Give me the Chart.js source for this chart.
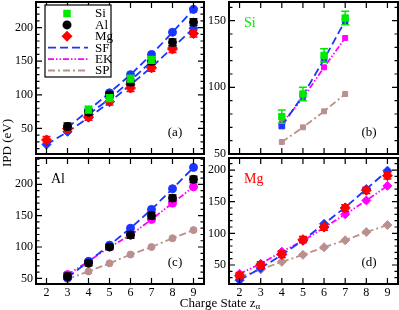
<!DOCTYPE html>
<html>
<head>
<meta charset="utf-8">
<script src="https://cdn.jsdelivr.net/npm/chart.js@4.4.1/dist/chart.umd.min.js"></script>
<style>
  body { margin: 0; background: #fff; }
  #fig { position: relative; width: 399px; height: 310px; overflow: hidden; font-family: "Liberation Serif", serif; color: #000; }
  #fig canvas { position: absolute; left: -20px; top: -20px; }
  .ytitle { position: absolute; left: 7px; top: 143px; transform: translate(-50%, -50%) rotate(-90deg); font-size: 13px; white-space: nowrap; }
  .xtitle { position: absolute; left: 220px; top: 303px; transform: translate(-50%, -50%); font-size: 13px; white-space: nowrap; }
  .xtitle sub { font-size: 9px; vertical-align: -2px; }
</style>
</head>
<body>
<div id="fig">
  <canvas id="panelA" width="439" height="350"></canvas>
  <canvas id="panelB" width="439" height="350"></canvas>
  <canvas id="panelC" width="439" height="350"></canvas>
  <canvas id="panelD" width="439" height="350"></canvas>
  <div class="ytitle">IPD (eV)</div>
  <div class="xtitle">Charge State z<sub>α</sub></div>
</div>
<script>
// data
const chargeTicks = [2, 3, 4, 5, 6, 7, 8, 9];

const siCharge = [4, 5, 6, 7];
const siExp = [78, 95, 124, 152];
const siErr = [5, 5, 5, 5];
const siSF = [71, 94, 121, 150];
const siEK = [73, 92, 115, 137];
const siSP = [59, 70, 82, 95];

const alCharge = [3, 4, 5, 6, 7, 8, 9];
const alExp = [53, 74, 100, 119, 150, 178, 208];
const alErr = [5, 4, 4, 5, 5, 5, 5];
const alSF = [51, 77, 103, 130, 160, 193, 227];
const alEK = [56, 77, 100, 119, 144, 170, 196];
const alSP = [49, 61, 74, 88, 100, 114, 127];

const mgCharge = [2, 3, 4, 5, 6, 7, 8, 9];
const mgExp = [33, 50, 67, 90, 110, 140, 168, 191];
const mgErr = [5, 5, 5, 5, 5, 5, 5, 5];
const mgSF = [26, 45, 66, 89, 115, 141, 170, 199];
const mgEK = [36, 52, 71, 88, 109, 130, 152, 175];
const mgSP = [31, 43, 55, 66, 78, 89, 102, 113];

const legendLabels = ['Si', 'Al', 'Mg', 'SF', 'EK', 'SP'];

const GREEN = '#00ea00';
const BLACK = '#000000';
const RED = '#ff0000';
const BLUE = '#1a35ff';
const MAGENTA = '#ff00ff';
const ROSY = '#bc8f8f';

const DASH_SF = [8, 4];
const DASH_EK = [6, 2, 1.5, 2, 1.5, 2];
const DASH_SP = [7, 3, 2, 3];

const FONT = { family: 'Liberation Serif', size: 12 };

function pts(xs, ys) {
    return xs.map((x, i) => ({ x: x, y: ys[i] }));
}

function expSet(label, xs, ys, err, color, shape, r) {
    return {
        label: label, data: pts(xs, ys), err: err, showLine: false,
        pointStyle: shape, pointRadius: r, pointHoverRadius: r, pointBorderWidth: 1,
        pointBackgroundColor: color, pointBorderColor: color,
        borderColor: color, backgroundColor: color
    };
}

function modelSet(label, xs, ys, color, dash, shape, r) {
    return {
        label: label, data: pts(xs, ys), showLine: true, fill: false, tension: 0,
        borderColor: color, backgroundColor: color, borderWidth: 1.8, borderDash: dash,
        pointStyle: shape, pointRadius: r, pointHoverRadius: r, pointBorderWidth: 1,
        pointBackgroundColor: color, pointBorderColor: color
    };
}

function drawMarker(ctx, shape, x, y, r, color) {
    ctx.fillStyle = color;
    ctx.beginPath();
    if (shape === 'rect') {
        ctx.rect(x - r * 0.75, y - r * 0.75, r * 1.5, r * 1.5);
    } else if (shape === 'circle') {
        ctx.arc(x, y, r, 0, Math.PI * 2);
    } else {
        ctx.moveTo(x, y - r); ctx.lineTo(x + r, y); ctx.lineTo(x, y + r); ctx.lineTo(x - r, y);
        ctx.closePath();
    }
    ctx.fill();
}

const legendStyles = [
    { marker: 'rect', color: GREEN, r: 5 },
    { marker: 'circle', color: BLACK, r: 4.5 },
    { marker: 'rectRot', color: RED, r: 5.5 },
    { dash: DASH_SF, color: BLUE },
    { dash: DASH_EK, color: MAGENTA },
    { dash: DASH_SP, color: ROSY }
];

// frame, inward ticks, error bars, panel texts, legend
const panelPlugin = {
    id: 'panel',
    beforeDatasetDraw(chart, args) {
        const ds = chart.data.datasets[args.index];
        if (!ds.err) return;
        const ctx = chart.ctx, xs = chart.scales.x, ys = chart.scales.y;
        ctx.save();
        ctx.strokeStyle = ds.borderColor;
        ctx.lineWidth = 1.5;
        ctx.beginPath();
        ds.data.forEach((p, i) => {
            const px = xs.getPixelForValue(p.x);
            const top = ys.getPixelForValue(p.y + ds.err[i]);
            const bot = ys.getPixelForValue(p.y - ds.err[i]);
            ctx.moveTo(px, top); ctx.lineTo(px, bot);
            ctx.moveTo(px - 4, top); ctx.lineTo(px + 4, top);
            ctx.moveTo(px - 4, bot); ctx.lineTo(px + 4, bot);
        });
        ctx.stroke();
        ctx.restore();
    },
    afterDraw(chart, args, opts) {
        const ctx = chart.ctx, a = chart.chartArea, xs = chart.scales.x, ys = chart.scales.y;
        ctx.save();
        ctx.strokeStyle = '#000';
        ctx.lineWidth = 1.2;
        ctx.beginPath();
        xs.ticks.forEach(t => {
            const px = xs.getPixelForValue(t.value);
            ctx.moveTo(px, a.bottom); ctx.lineTo(px, a.bottom - 6);
            ctx.moveTo(px, a.top); ctx.lineTo(px, a.top + 6);
        });
        ys.ticks.forEach(t => {
            const py = ys.getPixelForValue(t.value);
            const len = t.value % 50 === 0 ? 6 : 3.5;
            ctx.moveTo(a.left, py); ctx.lineTo(a.left + len, py);
            ctx.moveTo(a.right, py); ctx.lineTo(a.right - len, py);
        });
        ctx.stroke();
        ctx.lineWidth = 2;
        ctx.strokeRect(a.left, a.top, a.right - a.left, a.bottom - a.top);

        ctx.fillStyle = '#000';
        ctx.font = '13px "Liberation Serif"';
        ctx.textAlign = 'center';
        ctx.textBaseline = 'middle';
        ctx.fillText(opts.tag, a.right - 29, a.bottom - 21);

        if (opts.name) {
            ctx.fillStyle = opts.nameColor;
            ctx.font = '14px "Liberation Serif"';
            ctx.textAlign = 'left';
            ctx.fillText(opts.name, a.left + 15, a.top + 21);
        }

        if (opts.legend) {
            const bx = a.left + 9, by = a.top + 3;
            ctx.fillStyle = '#fff';
            ctx.fillRect(bx, by, 66, 72);
            ctx.strokeStyle = '#000';
            ctx.lineWidth = 1.2;
            ctx.strokeRect(bx, by, 66, 72);
            ctx.font = '13px "Liberation Serif"';
            ctx.textAlign = 'left';
            legendLabels.forEach((lab, i) => {
                const st = legendStyles[i];
                const y = by + 8.5 + i * 11.4;
                if (st.marker) {
                    drawMarker(ctx, st.marker, bx + 22, y, st.r, st.color);
                } else {
                    ctx.strokeStyle = st.color;
                    ctx.lineWidth = 1.8;
                    ctx.setLineDash(st.dash);
                    ctx.beginPath();
                    ctx.moveTo(bx + 3, y); ctx.lineTo(bx + 43, y);
                    ctx.stroke();
                    ctx.setLineDash([]);
                }
                ctx.fillStyle = '#000';
                ctx.fillText(lab, bx + 50, y + 0.5);
            });
        }
        ctx.restore();
    }
};

const panels = [
    {
        id: 'panelA', box: [36, 2, 204, 154], y: [12, 238], xLabels: false,
        opts: { tag: '(a)', legend: true },
        datasets: [
            expSet('Si', siCharge, siExp, siErr, GREEN, 'rect', 4.5),
            expSet('Al', alCharge, alExp, alErr, BLACK, 'circle', 4),
            expSet('Mg', mgCharge, mgExp, mgErr, RED, 'rectRot', 5),
            modelSet('SF Al', alCharge, alSF, BLUE, DASH_SF, 'circle', 4),
            modelSet('SF Si', siCharge, siSF, BLUE, DASH_SF, 'rect', 4),
            modelSet('SF Mg', mgCharge, mgSF, BLUE, DASH_SF, 'rectRot', 4.5)
        ]
    },
    {
        id: 'panelB', box: [229, 2, 398, 154], y: [50, 164], xLabels: false,
        opts: { tag: '(b)', name: 'Si', nameColor: GREEN },
        datasets: [
            expSet('Si', siCharge, siExp, siErr, GREEN, 'rect', 4.5),
            modelSet('SF', siCharge, siSF, BLUE, DASH_SF, 'rect', 4),
            modelSet('EK', siCharge, siEK, MAGENTA, DASH_EK, 'rect', 3.5),
            modelSet('SP', siCharge, siSP, ROSY, DASH_SP, 'rect', 3.5)
        ]
    },
    {
        id: 'panelC', box: [36, 158, 204, 284], y: [41, 242], xLabels: true,
        opts: { tag: '(c)', name: 'Al', nameColor: BLACK },
        datasets: [
            expSet('Al', alCharge, alExp, alErr, BLACK, 'circle', 4),
            modelSet('SF', alCharge, alSF, BLUE, DASH_SF, 'circle', 4),
            modelSet('EK', alCharge, alEK, MAGENTA, DASH_EK, 'circle', 4),
            modelSet('SP', alCharge, alSP, ROSY, DASH_SP, 'circle', 3.5)
        ]
    },
    {
        id: 'panelD', box: [229, 158, 398, 284], y: [20, 219], xLabels: true,
        opts: { tag: '(d)', name: 'Mg', nameColor: RED },
        datasets: [
            expSet('Mg', mgCharge, mgExp, mgErr, RED, 'rectRot', 5),
            modelSet('SF', mgCharge, mgSF, BLUE, DASH_SF, 'rectRot', 4.5),
            modelSet('EK', mgCharge, mgEK, MAGENTA, DASH_EK, 'rectRot', 4.5),
            modelSet('SP', mgCharge, mgSP, ROSY, DASH_SP, 'rectRot', 4.5)
        ]
    }
];

panels.forEach(p => {
    const [L, T, R, B] = p.box;
    new Chart(document.getElementById(p.id), {
        type: 'scatter',
        data: { datasets: p.datasets },
        options: {
            responsive: false,
            animation: false,
            events: [],
            layout: { padding: { left: L - 16, top: T + 20, right: 419 - R, bottom: 304 - B } },
            plugins: { legend: { display: false }, tooltip: { enabled: false }, panel: p.opts },
            scales: {
                x: {
                    type: 'linear', min: 1.5, max: 9.5,
                    grid: { display: false, drawTicks: false },
                    border: { display: false },
                    afterBuildTicks: s => { s.ticks = chargeTicks.map(v => ({ value: v })); },
                    afterFit: s => { s.height = 26; },
                    ticks: { display: p.xLabels, autoSkip: false, maxRotation: 0, padding: 2, color: '#000', font: FONT }
                },
                y: {
                    type: 'linear', min: p.y[0], max: p.y[1],
                    grid: { display: false, drawTicks: false },
                    border: { display: false },
                    afterBuildTicks: s => {
                        const t = [];
                        for (let v = Math.ceil(s.min / 10) * 10; v <= s.max; v += 10) t.push({ value: v });
                        s.ticks = t;
                    },
                    afterFit: s => { s.width = 36; },
                    ticks: { autoSkip: false, padding: 3, color: '#000', font: FONT,
                             callback: v => (v % 50 === 0 ? v : '') }
                }
            }
        },
        plugins: [panelPlugin]
    });
});
</script>
</body>
</html>
